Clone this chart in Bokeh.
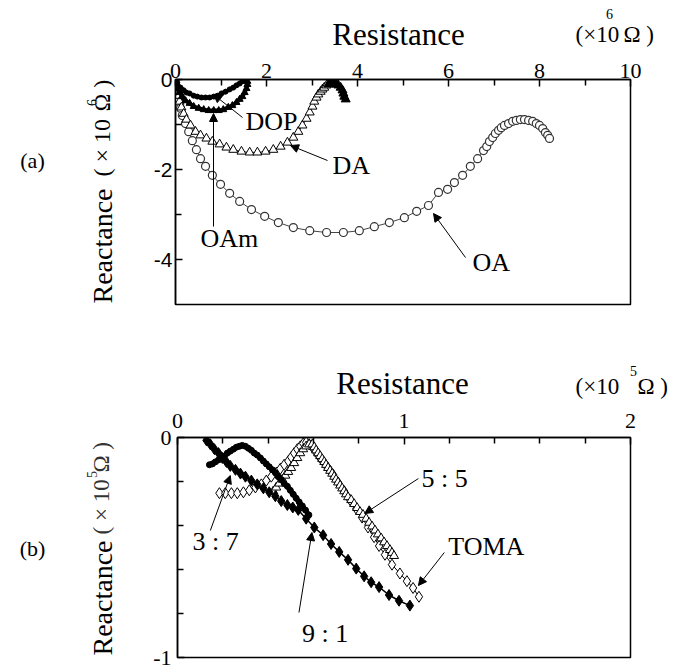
import math
from bokeh.plotting import figure
from bokeh.models import Label, Arrow, NormalHead, FixedTicker, CustomJSTickFormatter, Range1d
from bokeh.layouts import column, row
from bokeh.embed import file_html
from bokeh.resources import INLINE

SERIF = "Liberation Serif"
SANS = "Liberation Sans"

# ---------------- panel (a): resistance (x10^6 ohm) vs reactance ----------------
a_xticks = [0, 2, 4, 6, 8, 10]
a_xminor = [1, 3, 5, 7, 9]
a_yticks = [0, -2, -4]
a_yminor = [-1, -3]

oa_x = [0.00, 0.00, 0.02, 0.04, 0.07, 0.11, 0.15, 0.22, 0.29, 0.37, 0.46, 0.55, 0.66, 0.81, 0.99,
        1.19, 1.41, 1.67, 1.96, 2.26, 2.59, 2.95, 3.32, 3.69, 4.04, 4.37, 4.70, 5.03, 5.30, 5.56,
        5.78, 5.98, 6.13, 6.31, 6.48, 6.64, 6.77, 6.84, 6.90, 6.97, 7.03, 7.10, 7.16, 7.23, 7.32,
        7.41, 7.49, 7.58, 7.67, 7.76, 7.85, 7.93, 8.00, 8.07, 8.13, 8.18, 8.22]
oa_y = [-0.02, -0.11, -0.22, -0.36, -0.49, -0.64, -0.80, -0.98, -1.16, -1.36, -1.56, -1.76, -1.93, -2.13, -2.33,
        -2.53, -2.71, -2.89, -3.04, -3.18, -3.29, -3.36, -3.40, -3.40, -3.36, -3.27, -3.18, -3.07, -2.93, -2.80,
        -2.51, -2.44, -2.29, -2.13, -1.93, -1.76, -1.58, -1.49, -1.38, -1.29, -1.20, -1.13, -1.07, -1.02, -0.98,
        -0.93, -0.91, -0.89, -0.89, -0.91, -0.93, -0.98, -1.02, -1.09, -1.18, -1.24, -1.31]

da_x = [0.00, 0.02, 0.04, 0.07, 0.09, 0.13, 0.18, 0.24, 0.33, 0.44, 0.55, 0.68, 0.81, 0.97, 1.12,
        1.27, 1.45, 1.63, 1.80, 1.98, 2.15, 2.31, 2.46, 2.59, 2.70, 2.79, 2.88, 2.95, 3.01, 3.05,
        3.10, 3.14, 3.19, 3.23, 3.27, 3.32]
da_y = [-0.02, -0.11, -0.22, -0.36, -0.49, -0.62, -0.76, -0.89, -1.02, -1.16, -1.24, -1.31, -1.38, -1.44, -1.51,
        -1.56, -1.60, -1.62, -1.62, -1.60, -1.56, -1.49, -1.40, -1.29, -1.16, -1.02, -0.87, -0.73, -0.60, -0.49,
        -0.40, -0.33, -0.27, -0.22, -0.18, -0.13]
da_tail_x = [3.36, 3.41, 3.45, 3.49, 3.54, 3.58, 3.63, 3.67, 3.69, 3.71, 3.74]
da_tail_y = [-0.11, -0.09, -0.09, -0.09, -0.11, -0.13, -0.18, -0.24, -0.31, -0.38, -0.44]

dop_x = [0.00, 0.04, 0.11, 0.18, 0.24, 0.31, 0.40, 0.48, 0.57, 0.66, 0.75, 0.84, 0.92, 1.01, 1.10,
         1.19, 1.27, 1.34, 1.41, 1.47, 1.52]
dop_y = [-0.04, -0.11, -0.18, -0.24, -0.29, -0.31, -0.36, -0.38, -0.40, -0.40, -0.40, -0.38, -0.36, -0.31, -0.27,
         -0.22, -0.18, -0.13, -0.09, -0.04, -0.02]

oam_x = [0.00, 0.02, 0.04, 0.09, 0.15, 0.22, 0.31, 0.40, 0.51, 0.62, 0.73, 0.84, 0.95, 1.05, 1.16,
         1.25, 1.34, 1.41, 1.47, 1.52, 1.56, 1.58, 1.58]
oam_y = [-0.02, -0.11, -0.20, -0.29, -0.38, -0.47, -0.53, -0.60, -0.64, -0.67, -0.69, -0.69, -0.69, -0.67, -0.62,
         -0.58, -0.51, -0.44, -0.38, -0.29, -0.20, -0.11, -0.04]

# ---------------- panel (b): resistance (x10^5 ohm) vs reactance ----------------
b_xticks = [0, 1, 2]
b_xminor = [0.2, 0.4, 0.6, 0.8, 1.2, 1.4, 1.6, 1.8]
b_yticks = [0, -1]
b_yminor = [-0.2, -0.4, -0.6, -0.8]

r91_x = [0.128, 0.145, 0.163, 0.181, 0.198, 0.216, 0.233, 0.256, 0.278, 0.300, 0.326, 0.352, 0.379, 0.405,
         0.432, 0.458, 0.485, 0.509, 0.533, 0.568, 0.604, 0.643, 0.678, 0.714, 0.753, 0.789, 0.824, 0.855,
         0.890, 0.934, 0.978, 1.026]
r91_y = [-0.013, -0.031, -0.053, -0.071, -0.093, -0.111, -0.129, -0.147, -0.164, -0.178, -0.196, -0.213, -0.231, -0.249,
         -0.267, -0.289, -0.307, -0.318, -0.329, -0.369, -0.409, -0.444, -0.484, -0.520, -0.556, -0.596, -0.631, -0.658,
         -0.680, -0.716, -0.742, -0.764]

r37_x = [0.141, 0.154, 0.167, 0.181, 0.194, 0.207, 0.220, 0.233, 0.247, 0.260, 0.273, 0.286, 0.300, 0.313,
         0.326, 0.339, 0.352, 0.366, 0.379, 0.392, 0.405, 0.419, 0.432, 0.445, 0.458, 0.471, 0.485, 0.498,
         0.511, 0.524, 0.537, 0.551, 0.565, 0.580]
r37_y = [-0.124, -0.120, -0.111, -0.102, -0.093, -0.084, -0.071, -0.062, -0.053, -0.044, -0.040, -0.036, -0.040, -0.049,
         -0.058, -0.071, -0.080, -0.093, -0.107, -0.120, -0.133, -0.147, -0.160, -0.178, -0.191, -0.209, -0.222, -0.240,
         -0.258, -0.276, -0.293, -0.311, -0.330, -0.352]

toma_x = [0.185, 0.211, 0.238, 0.264, 0.291, 0.317, 0.344, 0.370, 0.392, 0.414, 0.436, 0.454, 0.471, 0.489,
          0.502, 0.515, 0.529, 0.542, 0.555, 0.568, 0.581, 0.595, 0.608, 0.621, 0.634, 0.648, 0.661, 0.674,
          0.687, 0.709, 0.736, 0.762, 0.789, 0.815, 0.841, 0.868, 0.890, 0.916, 0.947, 0.982, 1.013, 1.040, 1.066]
toma_y = [-0.253, -0.253, -0.253, -0.253, -0.249, -0.240, -0.227, -0.213, -0.196, -0.178, -0.160, -0.142, -0.124, -0.107,
          -0.089, -0.071, -0.053, -0.040, -0.027, -0.022, -0.031, -0.044, -0.062, -0.080, -0.098, -0.116, -0.133, -0.151,
          -0.169, -0.204, -0.244, -0.284, -0.324, -0.364, -0.409, -0.453, -0.493, -0.533, -0.578, -0.618, -0.653, -0.684, -0.724]

r55_x = [0.423, 0.436, 0.449, 0.463, 0.476, 0.489, 0.502, 0.515, 0.529, 0.542, 0.555, 0.568, 0.581, 0.595,
         0.604, 0.612, 0.621, 0.630, 0.639, 0.648, 0.656, 0.665, 0.674, 0.683, 0.692, 0.700, 0.709, 0.718,
         0.727, 0.736, 0.744, 0.753, 0.767, 0.780, 0.793, 0.806, 0.819, 0.833, 0.846, 0.859, 0.872, 0.885,
         0.899, 0.912, 0.925, 0.938, 0.947, 0.956]
r55_y = [-0.244, -0.227, -0.209, -0.191, -0.173, -0.156, -0.138, -0.116, -0.093, -0.071, -0.053, -0.040, -0.031, -0.031,
         -0.044, -0.058, -0.071, -0.084, -0.098, -0.111, -0.124, -0.138, -0.151, -0.164, -0.178, -0.191, -0.204, -0.218,
         -0.231, -0.244, -0.258, -0.271, -0.284, -0.302, -0.320, -0.338, -0.351, -0.369, -0.387, -0.404, -0.422, -0.440,
         -0.458, -0.476, -0.493, -0.511, -0.524, -0.538]

# ---------------- layout geometry (page pixels) ----------------
W = 673
LEFT_W = 150            # strip holding the y titles and panel letters
MAIN_W = W - LEFT_W
FRAME_L, FRAME_R = 175, 630
A_TOP_H = 52                    # strip with "Resistance" of panel (a)
A_FRAME_T, A_FRAME_B = 79, 304
A_MAIN_TOP = A_TOP_H
B_TOP = 330
B_TOP_H = 71
B_MAIN_TOP = B_TOP + B_TOP_H
B_FRAME_T, B_FRAME_B = 437, 657
PAGE_H = 671


class Strip:
    """Text-only figure; its data units are page pixels (y negated)."""

    def __init__(self, left, top, w, h, frame_top, frame_bottom):
        self.left = left
        s = figure(width=w, height=h, x_range=Range1d(0, w), y_range=Range1d(-frame_bottom, -frame_top),
                   title=None, x_axis_location=None, y_axis_location=None, output_backend="svg",
                   toolbar_location=None, min_border_left=0, min_border_right=0,
                   min_border_top=frame_top - top, min_border_bottom=top + h - frame_bottom)
        s.grid.visible = False
        s.outline_line_color = None
        s.border_fill_color = "white"
        s.background_fill_color = "white"
        self.fig = s

    def text(self, px, py, text, size, align="left", baseline="middle", angle=0.0, color="black"):
        self.fig.add_layout(Label(x=px - self.left, y=-py, text=text, text_font=SERIF,
                                  text_font_size=f"{size}px", text_align=align,
                                  text_baseline=baseline, angle=angle, text_color=color))


def make_fig(top, height, frame_top, frame_bottom, xr, yr):
    p = figure(width=MAIN_W, height=height, x_range=Range1d(*xr), y_range=Range1d(*yr),
               x_axis_location="above", output_backend="svg", toolbar_location=None, title=None,
               min_border_left=FRAME_L - LEFT_W, min_border_right=W - FRAME_R,
               min_border_top=frame_top - top, min_border_bottom=top + height - frame_bottom)
    p.grid.visible = False
    p.outline_line_color = "black"
    p.outline_line_width = 1.5
    p.background_fill_color = "white"
    p.border_fill_color = "white"
    return p


def style_axis(ax, ticks, minor, font, size, standoff):
    ax.ticker = FixedTicker(ticks=ticks, minor_ticks=minor)
    ax.formatter = CustomJSTickFormatter(code="return String(tick);")
    ax.major_tick_in = 7
    ax.major_tick_out = 0
    ax.minor_tick_in = 6
    ax.minor_tick_out = 0
    ax.axis_line_width = 1.5
    ax.major_tick_line_width = 1.5
    ax.minor_tick_line_width = 1.5
    ax.major_label_text_font = font
    ax.major_label_text_font_size = size
    ax.major_label_text_color = "black"
    ax.major_label_standoff = standoff


def lab(p, x, y, text, size, font=SERIF, align="left", baseline="middle"):
    p.add_layout(Label(x=x, y=y, text=text, text_font=font, text_font_size=f"{size}px",
                       text_align=align, text_baseline=baseline, text_color="black"))


def arrow(p, x0, y0, x1, y1):
    p.add_layout(Arrow(end=NormalHead(size=8, fill_color="black", line_color="black", line_width=1),
                       x_start=x0, y_start=y0, x_end=x1, y_end=y1, line_color="black", line_width=1))


UP = math.pi / 2

# ---------- panel (a) ----------
a_top = Strip(0, 0, W, A_TOP_H, 0, A_TOP_H)
a_top.text(398, 34, "Resistance", 31, align="center")
a_top.text(575, 34, "(\u00d710", 23)
a_top.text(609, 13, "6", 14, align="center")
a_top.text(623, 34, "\u03a9 )", 23)

A_MAIN_H = B_TOP - A_MAIN_TOP
a_left = Strip(0, A_MAIN_TOP, LEFT_W, A_MAIN_H, A_FRAME_T, A_FRAME_B)
a_left.text(32, 160, "(a)", 22, align="center")
a_left.text(102, 303, "Reactance", 28, angle=UP)
a_left.text(101, 176, "( \u00d7 10", 24, angle=UP)
a_left.text(91, 102, "6", 14, align="center", angle=UP)
a_left.text(101, 111, "\u03a9 )", 24, angle=UP)

p1 = make_fig(A_MAIN_TOP, A_MAIN_H, A_FRAME_T, A_FRAME_B, (0, 10), (-5, 0))
style_axis(p1.xaxis[0], a_xticks, a_xminor, SERIF, "22px", 2)
style_axis(p1.yaxis[0], a_yticks, a_yminor, SANS, "21px", 3)

A_XS = (FRAME_R - FRAME_L) / 10.0
A_YS = (A_FRAME_B - A_FRAME_T) / 5.0


def tp(px, py):
    return (px - FRAME_L) / A_XS, -(py - A_FRAME_T) / A_YS


p1.line(oa_x, oa_y, line_color="#444444", line_width=1)
p1.scatter(oa_x, oa_y, marker="circle", size=8, fill_color="white", line_color="#333333", line_width=1.2)
p1.line(da_x, da_y, line_color="black", line_width=0.8)
p1.scatter(da_x, da_y, marker="triangle", size=9, fill_color="white", line_color="black", line_width=1)
p1.line(da_tail_x, da_tail_y, line_color="black", line_width=5)
p1.scatter(da_tail_x, da_tail_y, marker="triangle", size=9, fill_color="black", line_color="black")
p1.line(oam_x, oam_y, line_color="black", line_width=4)
p1.scatter(oam_x, oam_y, marker="triangle", size=7, fill_color="black", line_color="black")
p1.line(dop_x, dop_y, line_color="black", line_width=4)
p1.scatter(dop_x, dop_y, marker="circle", size=5, fill_color="black", line_color="black")

arrow(p1, *tp(242, 117), *tp(213, 94))
arrow(p1, *tp(327, 160), *tp(290, 145))
arrow(p1, *tp(213, 226), *tp(213, 113))
arrow(p1, *tp(465, 257), *tp(433, 213))

lab(p1, *tp(245, 121), "DOP", 26)
lab(p1, *tp(332, 165), "DA", 26)
lab(p1, *tp(200, 238), "OAm", 26)
lab(p1, *tp(472, 262), "OA", 26)

# ---------- panel (b) ----------
b_top = Strip(0, B_TOP, W, B_TOP_H, B_TOP, B_TOP + B_TOP_H)
b_top.text(402, 383, "Resistance", 31, align="center")
b_top.text(575, 386, "(\u00d710", 23)
b_top.text(633, 370, "5", 14, align="center")
b_top.text(637, 386, "\u03a9 )", 23)

B_MAIN_H = PAGE_H - B_MAIN_TOP
b_left = Strip(0, B_MAIN_TOP, LEFT_W, B_MAIN_H, B_FRAME_T, B_FRAME_B)
b_left.text(32, 548, "(b)", 22, align="center")
b_left.text(102, 655, "Reactance", 28, angle=UP)
b_left.text(101, 534, "( \u00d7 10", 23, angle=UP, color="#333333")
b_left.text(91, 474, "5", 14, align="center", angle=UP, color="#333333")
b_left.text(101, 472, "\u03a9 )", 23, angle=UP, color="#333333")

p2 = make_fig(B_MAIN_TOP, B_MAIN_H, B_FRAME_T, B_FRAME_B, (0, 2), (-1, 0))
style_axis(p2.xaxis[0], b_xticks, b_xminor, SERIF, "22px", 10)
style_axis(p2.yaxis[0], b_yticks, b_yminor, SERIF, "22px", 6)

B_XS = (FRAME_R - FRAME_L) / 2.0
B_YS = float(B_FRAME_B - B_FRAME_T)


def bp(px, py):
    return (px - FRAME_L) / B_XS, -(py - B_FRAME_T) / B_YS


p2.line(toma_x, toma_y, line_color="black", line_width=1)
p2.scatter(toma_x, toma_y, marker="diamond", size=11, fill_color="white", line_color="black", line_width=1)
p2.scatter(r55_x, r55_y, marker="triangle", size=9, fill_color="white", line_color="black", line_width=1)
p2.line(r37_x, r37_y, line_color="black", line_width=5)
p2.scatter(r37_x, r37_y, marker="circle", size=6, fill_color="black", line_color="black")
p2.line(r91_x, r91_y, line_color="black", line_width=1.5)
p2.scatter(r91_x, r91_y, marker="diamond", size=11, fill_color="black", line_color="black")

arrow(p2, *bp(417, 478), *bp(363, 513))
arrow(p2, *bp(443, 552), *bp(417, 585))
arrow(p2, *bp(208, 530), *bp(228, 475))
arrow(p2, *bp(297, 612), *bp(310, 532))

lab(p2, *bp(420, 478), "5 : 5", 26)
lab(p2, *bp(447, 546), "TOMA", 26)
lab(p2, *bp(190, 541), "3 : 7", 26)
lab(p2, *bp(300, 633), "9 : 1", 26)

layout = column(a_top.fig, row(a_left.fig, p1), b_top.fig, row(b_left.fig, p2))
open("out.html", "w").write(file_html(layout, INLINE))
